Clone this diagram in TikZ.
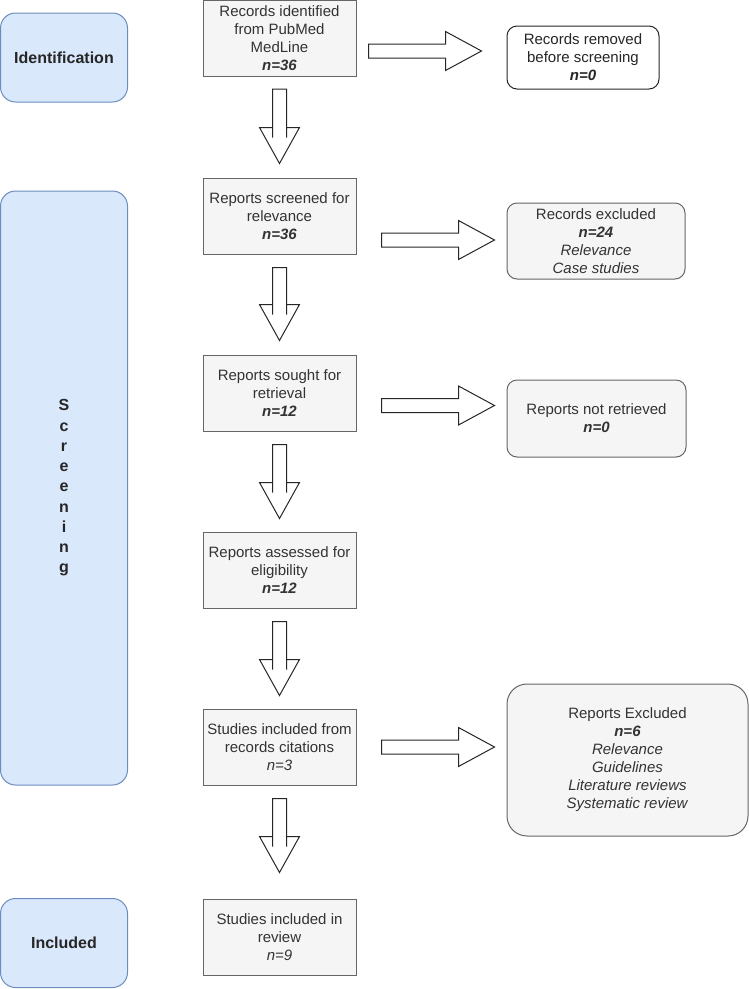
\documentclass[tikz,border=0pt]{standalone}
\usepackage{fontspec}
\setmainfont{Liberation Sans}
\usepackage{tikz}
\usetikzlibrary{calc}

\definecolor{phasefill}{HTML}{DAE8FC}
\definecolor{phasedraw}{HTML}{6C8EBF}
\definecolor{boxfill}{HTML}{F5F5F5}
\definecolor{boxdraw}{HTML}{666666}
\definecolor{boxtext}{HTML}{333333}

\begin{document}
\begin{tikzpicture}[x=1pt,y=-1pt]

\tikzstyle{phase}=[rectangle,draw=phasedraw,fill=phasefill,line width=1pt,rounded corners=15pt,minimum width=127pt,inner sep=0pt,align=center,text=black!85,font=\fontsize{16}{20.25}\selectfont\bfseries]
\tikzstyle{vertex}=[rectangle,draw=boxdraw,fill=boxfill,line width=1pt,minimum width=153pt,minimum height=76pt,inner sep=0pt,align=center,text=boxtext,font=\fontsize{15}{18}\selectfont]
\tikzstyle{vertex2}=[vertex,rounded corners=10pt]
\tikzstyle{vertex3}=[vertex2,fill=white,draw=black!85,text=black!85]
\tikzstyle{fatdown}=[draw=black!85,fill=white,line width=1pt,line join=miter,to path={let \p1=(\tikztostart), \p2=(\tikztotarget) in
  (\x1-7pt,\y1) -- (\x1-7pt,\y2+36pt) -- (\x1-20pt,\y2+36pt) -- (\x1,\y2) -- (\x1+20pt,\y2+36pt) -- (\x1+7pt,\y2+36pt) -- (\x1+7pt,\y1) -- cycle
  (\x1-7pt,\y2+36pt) -- (\x1-7pt,\y2+26pt) (\x1+7pt,\y2+36pt) -- (\x1+7pt,\y2+26pt)}]
\tikzstyle{fatright}=[draw=black!85,fill=white,line width=1pt,line join=miter,to path={let \p1=(\tikztostart), \p2=(\tikztotarget) in
  (\x1,\y1+7pt) -- (\x2-36pt,\y1+7pt) -- (\x2-36pt,\y1+19.5pt) -- (\x2,\y1) -- (\x2-36pt,\y1-19.5pt) -- (\x2-36pt,\y1-7pt) -- (\x1,\y1-7pt) -- cycle}]

\useasboundingbox (0,0) rectangle (749,989);

% phases on the left
\node[phase,minimum height=89pt] (ident) at (64,57.5) {Identification};
\node[phase,minimum height=594pt] (screen) at (64,488) {S\\c\\r\\e\\e\\n\\i\\n\\g};
\node[phase,minimum height=89pt] (incld) at (64,943) {Included};

% main column
\node[vertex] (records) at (279.5,38.5) {Records identified\\from PubMed\\MedLine\\\textbf{\textit{n=36}}};
\node[vertex] (screened) at (279.5,216) {Reports screened for\\relevance\\\textbf{\textit{n=36}}};
\node[vertex] (sought) at (279.5,393) {Reports sought for\\retrieval\\\textbf{\textit{n=12}}};
\node[vertex] (assessed) at (279.5,570) {Reports assessed for\\eligibility\\\textbf{\textit{n=12}}};
\node[vertex] (citations) at (279.5,747) {Studies included from\\records citations\\\textit{n=3}};
\node[vertex] (review) at (279.5,937) {Studies included in\\review\\\textit{n=9}};

% side column
\node[vertex3,minimum width=152pt,minimum height=63pt] (removed) at (583,57.5) {Records removed\\before screening\\\textbf{\textit{n=0}}};
\node[vertex2,minimum width=178pt] (excluded) at (596,241) {Records excluded\\\textbf{\textit{n=24}}\\\textit{Relevance}\\\textit{Case studies}};
\node[vertex2,minimum width=179pt,minimum height=77pt] (notret) at (596.5,418.5) {Reports not retrieved\\\textbf{\textit{n=0}}};
\node[vertex2,rounded corners=20pt,minimum width=241pt,minimum height=152pt] (repexcl) at (627.5,760) {Reports Excluded\\\textbf{\textit{n=6}}\\\textit{Relevance}\\\textit{Guidelines}\\\textit{Literature reviews}\\\textit{Systematic review}};

\draw[fatdown] ([yshift=-12pt]records.south) to ([yshift=14pt]screened.north);
\draw[fatdown] ([yshift=-13pt]screened.south) to ([yshift=14pt]sought.north);
\draw[fatdown] ([yshift=-13pt]sought.south) to ([yshift=13pt]assessed.north);
\draw[fatdown] ([yshift=-13pt]assessed.south) to ([yshift=13pt]citations.north);
\draw[fatdown] ([yshift=-13pt]citations.south) to ([yshift=26pt]review.north);

\draw[fatright] ([xshift=12pt,yshift=-12.5pt]records.east) to ([xshift=-25pt]removed.west);
\draw[fatright] ([xshift=25pt,yshift=-24pt]screened.east) to ([xshift=-12pt]excluded.west);
\draw[fatright] ([xshift=25pt,yshift=-12.5pt]sought.east) to ([xshift=-12pt]notret.west);
\draw[fatright] ([xshift=25pt]citations.east) to ([xshift=-12pt]repexcl.west);
\end{tikzpicture}
\end{document}
